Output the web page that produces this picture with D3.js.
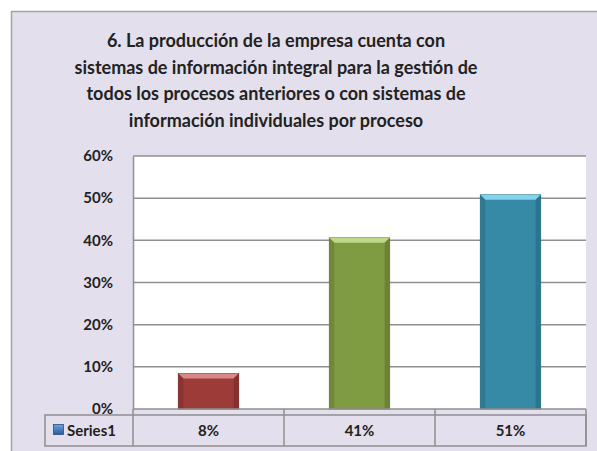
<!DOCTYPE html>
<html>
<head>
<meta charset="utf-8">
<script src="https://cdn.jsdelivr.net/npm/d3@7"></script>
<style>
  body { margin: 0; background: #fff; }
  svg { display: block; }
  text { font-family: Lato, "Open Sans", sans-serif; font-weight: bold; fill: #222; }
</style>
</head>
<body>
<svg id="chart" width="597" height="451"></svg>
<script>
// data
var titleLines = [
  "6. La producción de la empresa cuenta con",
  "sistemas de información integral para  la gestión de",
  "todos los procesos anteriores o con sistemas de",
  "información individuales por proceso"
];
var categories = ["c1", "c2", "c3"];
var values = [0.084, 0.406, 0.508];
var seriesName = "Series1";
var yTicks = [0, 0.1, 0.2, 0.3, 0.4, 0.5, 0.6];
var barColors = [
  { main: "#9d3b39", top: "#d98886", side: "#7e2e2d" },
  { main: "#809c42", top: "#bcd889", side: "#657d33" },
  { main: "#368aa5", top: "#86d2ec", side: "#2a6f86" }
];

var svg = d3.select("#chart");
var plotLeft = 133, plotRight = 586, plotTop = 156, plotBottom = 409;

// chart area background
svg.append("rect")
  .attr("x", 11.5).attr("y", 11.5)
  .attr("width", 620).attr("height", 460)
  .attr("fill", "#e4dfec")
  .attr("stroke", "#a3a3a3")
  .attr("stroke-width", 1.5);

// title
var title = svg.append("text")
  .attr("text-anchor", "middle")
  .style("font-size", "18px");
title.selectAll("tspan")
  .data(titleLines)
  .enter().append("tspan")
  .attr("x", 276)
  .attr("y", function(d, i) { return 47 + i * 26.5; })
  .text(function(d) { return d; });

var y = d3.scaleLinear().domain([0, 0.6]).range([plotBottom, plotTop]);
var x = d3.scaleBand().domain(categories).range([plotLeft, plotRight])
  .paddingInner(0.6).paddingOuter(0.3);
var step = x.step();

// plot area
svg.append("rect")
  .attr("x", plotLeft).attr("y", plotTop)
  .attr("width", plotRight - plotLeft).attr("height", plotBottom - plotTop)
  .attr("fill", "#fff");

// gridlines
svg.append("g")
  .selectAll("line")
  .data(yTicks.slice(1))
  .enter().append("line")
  .attr("x1", plotLeft).attr("x2", plotRight)
  .attr("y1", function(d) { return y(d); })
  .attr("y2", function(d) { return y(d); })
  .attr("stroke", "#8f8f8f")
  .attr("stroke-width", 1.5);

// y axis
var yAxis = d3.axisLeft(y).tickValues(yTicks).tickFormat(d3.format(".0%")).tickSize(0).tickPadding(20);
var gy = svg.append("g").attr("transform", "translate(" + plotLeft + ",0)").call(yAxis);
gy.select(".domain").attr("stroke", "#8f8f8f").attr("stroke-width", 1.5);
gy.selectAll("text").style("font-size", "15px").attr("fill", "#222");

// bars with bevel
var bars = svg.append("g").selectAll("g")
  .data(values)
  .enter().append("g");
var bev = 5;
bars.append("rect")
  .attr("x", function(d, i) { return x(categories[i]); })
  .attr("y", function(d) { return y(d); })
  .attr("width", x.bandwidth())
  .attr("height", function(d) { return plotBottom - y(d); })
  .attr("fill", function(d, i) { return barColors[i].main; })
  .attr("stroke", function(d, i) { return barColors[i].side; })
  .attr("stroke-width", 0.8);
bars.append("polygon")
  .attr("points", function(d, i) {
    var x0 = x(categories[i]), x1 = x0 + x.bandwidth(), y0 = y(d);
    return [[x0, y0], [x1, y0], [x1 - bev, y0 + bev], [x0 + bev, y0 + bev]].join(" ");
  })
  .attr("fill", function(d, i) { return barColors[i].top; });
bars.append("polygon")
  .attr("points", function(d, i) {
    var x0 = x(categories[i]), y0 = y(d);
    return [[x0, y0], [x0 + bev, y0 + bev], [x0 + bev, plotBottom], [x0, plotBottom]].join(" ");
  })
  .attr("fill", function(d, i) { return barColors[i].side; })
  .attr("opacity", 0.6);
bars.append("polygon")
  .attr("points", function(d, i) {
    var x1 = x(categories[i]) + x.bandwidth(), y0 = y(d);
    return [[x1, y0], [x1 - bev, y0 + bev], [x1 - bev, plotBottom], [x1, plotBottom]].join(" ");
  })
  .attr("fill", function(d, i) { return barColors[i].side; })
  .attr("opacity", 0.8);

// category axis line
svg.append("line")
  .attr("x1", plotLeft).attr("x2", plotRight)
  .attr("y1", plotBottom).attr("y2", plotBottom)
  .attr("stroke", "#8f8f8f").attr("stroke-width", 1.5);

// data table
var tTop = 415, tBot = 446, tLeft = 45;
svg.append("rect")
  .attr("x", tLeft).attr("y", tTop)
  .attr("width", plotRight - tLeft).attr("height", tBot - tTop)
  .attr("fill", "none").attr("stroke", "#8f8f8f").attr("stroke-width", 1.5);
svg.append("line")
  .attr("x1", plotLeft).attr("x2", plotLeft)
  .attr("y1", plotBottom).attr("y2", tBot)
  .attr("stroke", "#8f8f8f").attr("stroke-width", 1.5);
svg.append("g").selectAll("line")
  .data(categories)
  .enter().append("line")
  .attr("x1", function(d) { return x(d) - step * x.paddingOuter() + step; })
  .attr("x2", function(d) { return x(d) - step * x.paddingOuter() + step; })
  .attr("y1", plotBottom).attr("y2", tBot)
  .attr("stroke", "#8f8f8f").attr("stroke-width", 1.5);

svg.append("g").selectAll("text")
  .data(values)
  .enter().append("text")
  .attr("x", function(d, i) { return x(categories[i]) + x.bandwidth() / 2; })
  .attr("y", 431)
  .attr("dy", "0.35em")
  .attr("text-anchor", "middle")
  .style("font-size", "15px")
  .text(d3.format(".0%"));

// legend key
var keyGrad = svg.append("defs").append("linearGradient")
  .attr("id", "keyGrad").attr("x1", 0).attr("y1", 0).attr("x2", 0).attr("y2", 1);
keyGrad.append("stop").attr("offset", "0%").attr("stop-color", "#6fa3dc");
keyGrad.append("stop").attr("offset", "100%").attr("stop-color", "#2a5a9a");
svg.append("rect")
  .attr("x", 53.5).attr("y", 424.5)
  .attr("width", 10).attr("height", 10)
  .attr("fill", "url(#keyGrad)")
  .attr("stroke", "#2a4f80").attr("stroke-width", 0.8);
svg.append("text")
  .attr("x", 67).attr("y", 431)
  .attr("dy", "0.35em")
  .style("font-size", "15px")
  .text(seriesName);
</script>
</body>
</html>
